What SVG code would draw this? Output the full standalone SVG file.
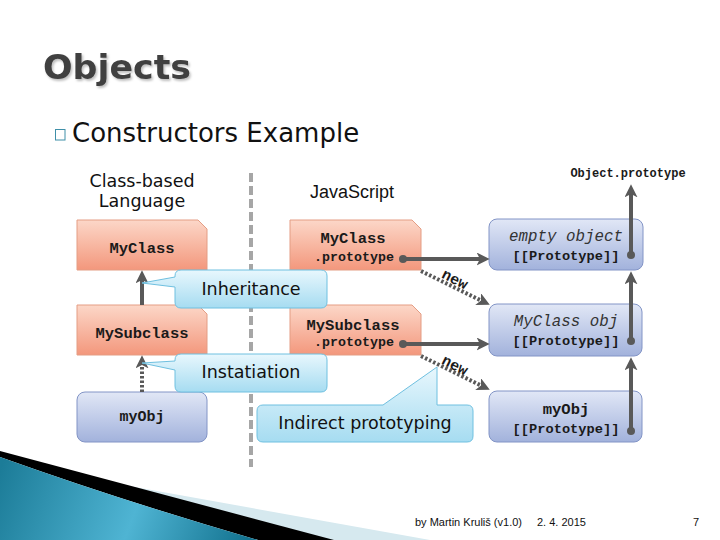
<svg xmlns="http://www.w3.org/2000/svg" width="720" height="540" viewBox="0 0 720 540">
<defs>
<style>
.sans{font-family:"DejaVu Sans","Liberation Sans",sans-serif}
.mono{font-family:"Liberation Mono","Courier New",monospace;font-weight:bold;fill:#1a1a1a}
.ital{font-family:"Liberation Mono","Courier New",monospace;font-style:italic;fill:#333}
.salmon{fill:url(#gSalmon);stroke:#e49d84;stroke-width:1}
.blue{fill:url(#gBlue);stroke:#8294c6;stroke-width:1}
.call{fill:url(#gCall);stroke:#6fc0e0;stroke-width:1}
.solid{stroke:#595959;stroke-width:4;fill:none}
.dotted{stroke:#595959;stroke-width:4;fill:none;stroke-dasharray:2.5 2}
.dot{fill:#595959}
</style>
<filter id="shadow" x="-10%" y="-20%" width="130%" height="150%">
<feDropShadow dx="1.5" dy="2" stdDeviation="1" flood-color="#000" flood-opacity="0.25"/>
</filter>
<linearGradient id="gSalmon" x1="0" y1="0" x2="0" y2="1">
<stop offset="0" stop-color="#fcd7c8"/><stop offset="1" stop-color="#f3977c"/>
</linearGradient>
<linearGradient id="gBlue" x1="0" y1="0" x2="0" y2="1">
<stop offset="0" stop-color="#e1e7f6"/><stop offset="1" stop-color="#a2b2dc"/>
</linearGradient>
<linearGradient id="gCall" x1="0" y1="0" x2="0" y2="1">
<stop offset="0" stop-color="#e8f7fd"/><stop offset="1" stop-color="#a6dcf1"/>
</linearGradient>
<linearGradient id="gTeal" gradientUnits="userSpaceOnUse" x1="0" y1="470" x2="240" y2="560">
<stop offset="0" stop-color="#1c7c98"/><stop offset="0.55" stop-color="#4fb4d3"/><stop offset="1" stop-color="#137390"/>
</linearGradient>
<marker id="ah" viewBox="0 0 12 12" refX="4" refY="6" markerWidth="13" markerHeight="13" markerUnits="userSpaceOnUse" orient="auto">
<path d="M0,0 L12,6 L0,12 L3,6 Z" fill="#595959"/>
</marker>
</defs>

<!-- decoration -->
<g id="swoosh">
<path d="M40,470 L430,540 L330,540 Z" fill="#d6e9ef"/>
<path d="M0,451 L334,540 L258,540 Q120,500 0,457 Z" fill="#000"/>
<path d="M0,457 Q120,500 258,540 L0,540 Z" fill="url(#gTeal)"/>
</g>

<!-- title -->
<g id="title">
<text x="43" y="79" class="sans" font-size="34" font-weight="bold" fill="#404040" textLength="148" lengthAdjust="spacingAndGlyphs" filter="url(#shadow)">Objects</text>
<rect x="55.5" y="129.5" width="9.5" height="10.5" fill="none" stroke="#3f8fa8" stroke-width="1"/>
<text x="72" y="142" class="sans" font-size="26" fill="#111">Constructors Example</text>
</g>

<g id="headers">
<text x="142" y="187" class="sans" font-size="17.5" text-anchor="middle" fill="#111">Class-based</text>
<text x="142" y="207" class="sans" font-size="17.5" text-anchor="middle" fill="#111">Language</text>
<text x="352" y="198" font-family="Liberation Sans,Arial,sans-serif" font-size="18" text-anchor="middle" fill="#111">JavaScript</text>
<text x="628" y="177" class="mono" font-size="12" text-anchor="middle">Object.prototype</text>
</g>

<line id="separator" x1="251" y1="173" x2="251" y2="467" stroke="#a6a6a6" stroke-width="4" stroke-dasharray="9 4"/>

<!-- left column -->
<g id="n-myclass">
<path class="salmon" d="M77,220 H198 L207,229 V270 H77 Z"/>
<text x="142" y="253" class="mono" font-size="15.5" text-anchor="middle">MyClass</text>
</g>
<g id="n-mysubclass">
<path class="salmon" d="M77,305 H198 L207,314 V355 H77 Z"/>
<text x="142" y="338" class="mono" font-size="15.5" text-anchor="middle">MySubclass</text>
</g>
<g id="n-myobj-left">
<rect class="blue" x="77" y="392" width="130" height="50" rx="8"/>
<text x="142" y="421" class="mono" font-size="15" text-anchor="middle">myObj</text>
</g>

<!-- middle column -->
<g id="n-myclass-proto">
<path class="salmon" d="M290,220 H412 L421,229 V270 H290 Z"/>
<text x="353" y="243" class="mono" font-size="15.5" text-anchor="middle">MyClass</text>
<text x="354" y="261" class="mono" font-size="13.3" text-anchor="middle">.prototype</text>
</g>
<g id="n-mysubclass-proto">
<path class="salmon" d="M290,305 H412 L421,314 V355 H290 Z"/>
<text x="353" y="330" class="mono" font-size="15.5" text-anchor="middle">MySubclass</text>
<text x="354" y="346" class="mono" font-size="13.3" text-anchor="middle">.prototype</text>
</g>

<!-- right column -->
<g id="n-empty">
<rect class="blue" x="489" y="219" width="154" height="51" rx="8"/>
<text x="566" y="241" class="ital" font-size="15.8" text-anchor="middle">empty object</text>
<text x="566" y="260" class="mono" font-size="13.7" text-anchor="middle">[[Prototype]]</text>
</g>
<g id="n-myclassobj">
<rect class="blue" x="489" y="304" width="153" height="52" rx="8"/>
<text x="566" y="326" class="ital" font-size="15.8" text-anchor="middle">MyClass obj</text>
<text x="566" y="345" class="mono" font-size="13.7" text-anchor="middle">[[Prototype]]</text>
</g>
<g id="n-myobj">
<rect class="blue" x="489" y="391" width="153" height="51" rx="8"/>
<text x="566" y="414" class="mono" font-size="15.5" text-anchor="middle">myObj</text>
<text x="566" y="433" class="mono" font-size="13.7" text-anchor="middle">[[Prototype]]</text>
</g>

<!-- connectors -->
<g id="connectors">
<line class="solid" x1="142" y1="305" x2="142" y2="279" marker-end="url(#ah)"/>
<line class="dotted" x1="142" y1="392" x2="142" y2="364" marker-end="url(#ah)"/>
<line class="solid" x1="403" y1="259" x2="481" y2="259" marker-end="url(#ah)"/>
<circle class="dot" cx="403" cy="259" r="4"/>
<line class="solid" x1="403" y1="344" x2="481" y2="344" marker-end="url(#ah)"/>
<circle class="dot" cx="403" cy="344" r="4"/>
<line class="solid" x1="631" y1="255" x2="631" y2="193" marker-end="url(#ah)"/>
<circle class="dot" cx="631" cy="255" r="4"/>
<line class="solid" x1="631" y1="341" x2="631" y2="280" marker-end="url(#ah)"/>
<circle class="dot" cx="631" cy="341" r="4"/>
<line class="solid" x1="631" y1="431" x2="631" y2="366" marker-end="url(#ah)"/>
<circle class="dot" cx="631" cy="431" r="4"/>
<line class="dotted" x1="421" y1="271" x2="482" y2="301" marker-end="url(#ah)"/>
<line class="dotted" x1="421" y1="356" x2="482" y2="386" marker-end="url(#ah)"/>
<text x="455" y="284" class="mono" font-size="15" text-anchor="middle" transform="rotate(27 455 279)">new</text>
<text x="455" y="370" class="mono" font-size="15" text-anchor="middle" transform="rotate(27 455 365)">new</text>
</g>

<!-- callouts -->
<g id="c-inheritance">
<path class="call" d="M181,270 H321 Q327,270 327,276 V302 Q327,308 321,308 H181 Q175,308 175,302 V287 L142,283 L175,277 V276 Q175,270 181,270 Z"/>
<text x="251" y="295" class="sans" font-size="17.5" text-anchor="middle" fill="#111">Inheritance</text>
</g>
<g id="c-instatiation">
<path class="call" d="M181,354 H321 Q327,354 327,360 V386 Q327,392 321,392 H181 Q175,392 175,386 V370 L142,363 L175,361 V360 Q175,354 181,354 Z"/>
<text x="251" y="378" class="sans" font-size="17.5" text-anchor="middle" fill="#111">Instatiation</text>
</g>
<g id="c-indirect">
<path class="call" d="M263,405 H383 L437,367 V405 H467 Q473,405 473,411 V436 Q473,442 467,442 H263 Q257,442 257,436 V411 Q257,405 263,405 Z"/>
<text x="365" y="429" class="sans" font-size="17.5" text-anchor="middle" fill="#111">Indirect prototyping</text>
</g>

<!-- footer -->
<g id="footer" font-family="Liberation Sans,Arial,sans-serif" font-size="11" fill="#111">
<text x="415" y="526">by Martin Kruliš (v1.0)</text>
<text x="537" y="526">2. 4. 2015</text>
<text x="693" y="526">7</text>
</g>
</svg>
